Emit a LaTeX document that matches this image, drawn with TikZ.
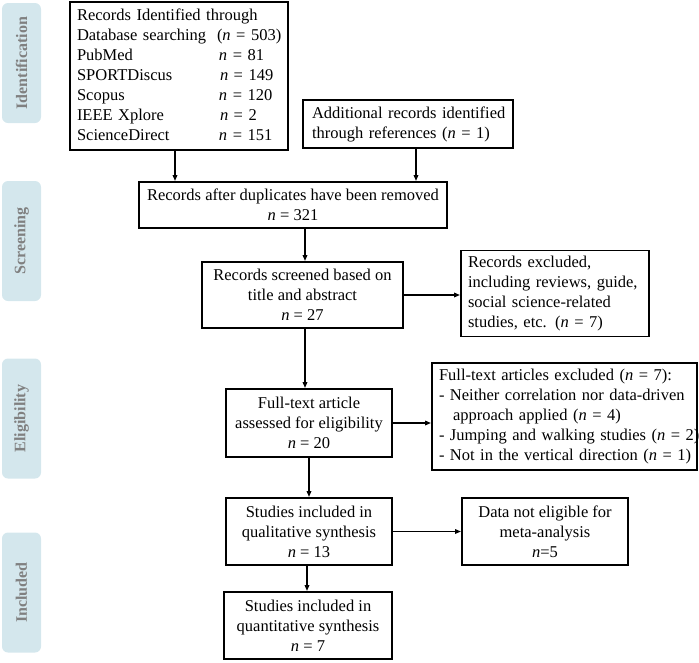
\documentclass[tikz,border=0pt]{standalone}
\usepackage{fontspec}
\setmainfont{Liberation Serif}
\usetikzlibrary{arrows.meta,calc}
\definecolor{phasefill}{HTML}{D4E7ED}
\definecolor{phasetext}{HTML}{808080}
\newcommand{\lines}[1]{\begin{tabular}{@{}l@{}}#1\end{tabular}}
\begin{document}
\begin{tikzpicture}[x=1pt,y=-1pt,
  every node/.style={font=\fontsize{16.5}{20}\selectfont},
  box/.style={draw=black,line width=1.9pt,inner xsep=7pt,inner ysep=3pt,align=center},
  lbox/.style={box,align=left},
  phase/.style={fill=phasefill,rounded corners=6pt,rotate=90,minimum width=120pt,minimum height=39pt,
    text=phasetext,font=\fontsize{16}{19}\selectfont\bfseries},
  arr/.style={line width=1.5pt,-{Triangle[length=6pt,width=4.5pt]}}]
\useasboundingbox (0,0) rectangle (699,662);
% phase labels
\node[phase] (pid) at (21.5,63) {Identification};
\node[phase] (psc) at (21.5,241) {Screening};
\node[phase] (pel) at (21.5,418.5) {Eligibility};
\node[phase] (pin) at (21.5,592.5) {Included};
% boxes
\node[lbox,minimum width=218pt,minimum height=148pt,text width=204pt] (b1) at (179,76)
 {\lines{Records Identified through\\
  \makebox[140pt][l]{Database searching}(\textit{n} = 503)\\
  \makebox[142pt][l]{PubMed}\textit{n} = 81\\
  \makebox[143pt][l]{SPORTDiscus}\textit{n} = 149\\
  \makebox[142pt][l]{Scopus}\textit{n} = 120\\
  \makebox[143pt][l]{IEEE Xplore}\textit{n} = 2\\
  \makebox[142pt][l]{ScienceDirect}\textit{n} = 151}};
\node[lbox,minimum width=210pt,minimum height=48pt,text width=192pt,inner xsep=9pt] (add) at (408,124)
 {\lines{Additional records identified\\through references (\textit{n} = 1)}};
\node[box,minimum width=308pt,minimum height=46pt] (dup) at (293,205)
 {Records after duplicates have been removed\\\textit{n} = 321};
\node[box,minimum width=201pt,minimum height=66pt] (scr) at (302.5,295)
 {Records screened based on\\title and abstract\\\textit{n} = 27};
\node[lbox,minimum width=188pt,minimum height=85pt,text width=174pt] (exc) at (555,293.5)
 {\lines{Records excluded,\\including reviews, guide,\\social science-related\\studies, etc. (\textit{n} = 7)}};
\node[box,minimum width=166pt,minimum height=68pt] (ft) at (309,423)
 {Full-text article\\assessed for eligibility\\\textit{n} = 20};
\node[lbox,minimum width=265pt,minimum height=107pt,text width=251pt] (ftx) at (564.5,416.5)
 {\lines{Full-text articles excluded (\textit{n} = 7):\\
  - Neither correlation nor data-driven\\
  \hspace*{14pt}approach applied (\textit{n} = 4)\\
  - Jumping and walking studies (\textit{n} = 2)\\
  - Not in the vertical direction (\textit{n} = 1)}};
\node[box,minimum width=166pt,minimum height=67pt] (qual) at (309,531.5)
 {Studies included in\\qualitative synthesis\\\textit{n} = 13};
\node[box,minimum width=166pt,minimum height=67pt] (dat) at (545,531.5)
 {Data not eligible for\\meta-analysis\\\textit{n}=5};
\node[box,minimum width=168pt,minimum height=67pt] (quan) at (308,625.5)
 {Studies included in\\quantitative synthesis\\\textit{n} = 7};
% connectors
\draw[arr] ([xshift=-4pt]b1.south) -- ([xshift=-4pt]b1.south |- dup.north);
\draw[arr] ([xshift=8pt]add.south) -- ([xshift=8pt]add.south |- dup.north);
\draw[arr] ([xshift=2.5pt]scr.north |- dup.south) -- ([xshift=2.5pt]scr.north);
\draw[arr] ([xshift=2.5pt]scr.south) -- ([xshift=2.5pt]scr.south |- ft.north);
\draw[arr] (scr.east) -- (scr.east -| exc.west);
\draw[arr] (ft.south) -- (ft.south |- qual.north);
\draw[arr] (ft.east) -- (ft.east -| ftx.west);
\draw[arr] (qual.east) -- (qual.east -| dat.west);
\draw[arr] ([xshift=-2pt]qual.south) -- ([xshift=-2pt]qual.south |- quan.north);
\end{tikzpicture}
\end{document}
